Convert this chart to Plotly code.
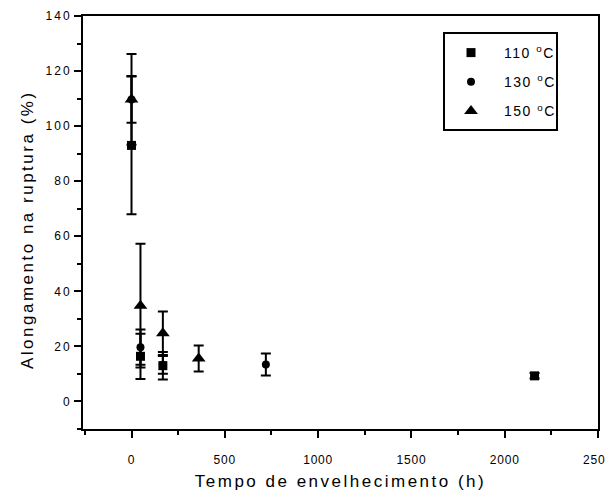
import plotly.graph_objects as go

# Data
t110 = [0, 48, 168, 2160]
v110 = [93, 16.4, 13.0, 9.3]
e110 = [25, 8.2, 5.0, 1.0]

t130 = [0, 48, 168, 720]
v130 = [109.7, 19.7, 13.3, 13.4]
e130 = [8.5, 6.4, 3.2, 4.0]

t150 = [0, 48, 168, 360]
v150 = [109.7, 34.8, 24.8, 15.6]
e150 = [16.5, 22.5, 7.9, 4.7]

x_ticks = [0, 500, 1000, 1500, 2000, 2500]
y_ticks = [0, 20, 40, 60, 80, 100, 120, 140]

names = ["110 <sup>o</sup>C", "130 <sup>o</sup>C", "150 <sup>o</sup>C"]
series = [(t110, v110, e110, "square", 9),
          (t130, v130, e130, "circle", 8),
          (t150, v150, e150, "triangle-up", 12)]

FONT = "Arial, Liberation Sans, sans-serif"


def spaced(s, px):
    return f'<span style="letter-spacing:{px}px">{s}</span>'


fig = go.Figure()
for name, (t, v, e, sym, sz) in zip(names, series):
    fig.add_trace(go.Scatter(
        x=t, y=v, mode="markers", name=spaced(name, 1.5), legendgroup=name,
        marker=dict(symbol=sym, size=sz, color="black", line=dict(width=0)),
        error_y=dict(type="data", array=e, visible=True, color="black",
                     thickness=2, width=5),
    ))

axis_common = dict(
    showline=True, linecolor="black", linewidth=2, mirror=True,
    ticks="outside", tickcolor="black", tickwidth=2, ticklen=7,
    showgrid=False, zeroline=False, ticklabeloverflow="allow",
    automargin=False,
    tickfont=dict(family=FONT, size=12, color="black"),
)

fig.update_xaxes(
    range=[-260, 2500], tickmode="array", tickvals=x_ticks,
    ticktext=[spaced(str(v), 0.8) for v in x_ticks],
    ticklabelstandoff=12,
    minor=dict(ticks="outside", ticklen=4, tickwidth=2, tickcolor="black",
               tick0=-250, dtick=250, showgrid=False),
    title=dict(text=spaced("Tempo de envelhecimento (h)", 2.5),
               font=dict(family=FONT, size=17, color="black"), standoff=10),
    **axis_common,
)
fig.update_yaxes(
    range=[-10, 140], tickmode="array", tickvals=y_ticks,
    ticktext=[spaced(str(v), 2) for v in y_ticks],
    minor=dict(ticks="outside", ticklen=4, tickwidth=2, tickcolor="black",
               tick0=-10, dtick=10, showgrid=False),
    title=dict(text=spaced("Alongamento na ruptura (%)\u00a0\u00a0", 2.5),
               font=dict(family=FONT, size=17, color="black"), standoff=8),
    **axis_common,
)

# page body has an 8px margin: plot area at page x 83..598, y 16..429
L, T, PW, PH = 75, 8, 515, 413

# legend frame
fig.add_shape(type="rect", xref="paper", yref="paper",
              x0=(444 - 83) / PW, x1=(557 - 83) / PW,
              y0=(429 - 130) / PH, y1=(429 - 33) / PH,
              line=dict(color="black", width=2), fillcolor="rgba(0,0,0,0)")

fig.update_layout(
    width=605, height=483,
    margin=dict(l=L, r=605 - L - PW, t=T, b=483 - T - PH, autoexpand=False),
    plot_bgcolor="white", paper_bgcolor="white",
    showlegend=True,
    legend=dict(x=(438 - 83) / PW, y=(429 - 37) / PH, xanchor="left", yanchor="top",
                bgcolor="rgba(0,0,0,0)", borderwidth=0,
                font=dict(family=FONT, size=14, color="black"),
                tracegroupgap=8, itemwidth=56),
)

fig.write_html("out.html")
